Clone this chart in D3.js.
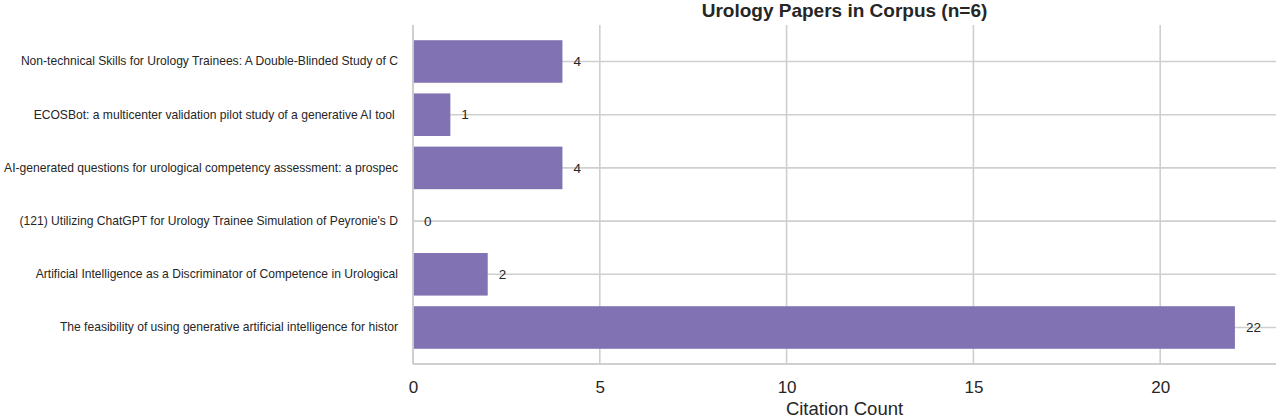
<!DOCTYPE html>
<html>
<head>
<meta charset="utf-8">
<script src="https://cdn.jsdelivr.net/npm/d3@7"></script>
<style>
  body { margin: 0; background: #fff; }
  text { font-family: "Liberation Sans", Arial, sans-serif; fill: #262626; }
</style>
</head>
<body>
<div id="chart"></div>
<script>
const papers = [
  'Non-technical Skills for Urology Trainees: A Double-Blinded Study of C',
  'ECOSBot: a multicenter validation pilot study of a generative AI tool ',
  'AI-generated questions for urological competency assessment: a prospec',
  "(121) Utilizing ChatGPT for Urology Trainee Simulation of Peyronie's D",
  'Artificial Intelligence as a Discriminator of Competence in Urological',
  'The feasibility of using generative artificial intelligence for histor'
]
const citations = [4, 1, 4, 0, 2, 22]
const xTicks = [0, 5, 10, 15, 20]

const chartTitle = 'Urology Papers in Corpus (n=6)'
const xLabel = 'Citation Count'

const width = 1280
const height = 418
const margin = { top: 25, right: 4, bottom: 54, left: 413 }

const svg = d3
  .select('#chart')
  .append('svg')
  .attr('width', width)
  .attr('height', height)

const xScale = d3
  .scaleLinear()
  .domain([0, d3.max(citations) * 1.05])
  .range([margin.left, width - margin.right])

const yScale = d3
  .scaleBand()
  .domain(papers)
  .range([margin.top, height - margin.bottom])
  .paddingInner(0.2)
  .paddingOuter(0.286)

const gridColor = '#cfcfcf'

// vertical grid
svg
  .append('g')
  .selectAll('line')
  .data(xTicks)
  .join('line')
  .attr('x1', (d) => xScale(d))
  .attr('x2', (d) => xScale(d))
  .attr('y1', margin.top)
  .attr('y2', height - margin.bottom)
  .attr('stroke', gridColor)
  .attr('stroke-width', 1.6)

// horizontal grid at category centres
svg
  .append('g')
  .selectAll('line')
  .data(papers)
  .join('line')
  .attr('x1', margin.left)
  .attr('x2', width - margin.right)
  .attr('y1', (d) => yScale(d) + yScale.bandwidth() / 2)
  .attr('y2', (d) => yScale(d) + yScale.bandwidth() / 2)
  .attr('stroke', gridColor)
  .attr('stroke-width', 1.6)

// bars
svg
  .append('g')
  .selectAll('rect')
  .data(papers)
  .join('rect')
  .attr('x', xScale(0))
  .attr('y', (d) => yScale(d))
  .attr('width', (d, i) => xScale(citations[i]) - xScale(0))
  .attr('height', yScale.bandwidth())
  .attr('fill', '#8172b3')

// spines (left and bottom)
svg
  .append('line')
  .attr('x1', margin.left)
  .attr('x2', margin.left)
  .attr('y1', margin.top)
  .attr('y2', height - margin.bottom)
  .attr('stroke', gridColor)
  .attr('stroke-width', 1.8)

svg
  .append('line')
  .attr('x1', margin.left)
  .attr('x2', width - margin.right)
  .attr('y1', height - margin.bottom)
  .attr('y2', height - margin.bottom)
  .attr('stroke', gridColor)
  .attr('stroke-width', 1.8)

// y axis labels
const yAxis = d3.axisLeft(yScale).tickSize(0).tickPadding(15)
const yAxisG = svg
  .append('g')
  .attr('transform', `translate(${margin.left}, 0)`)
  .call(yAxis)
yAxisG.select('.domain').remove()
yAxisG
  .selectAll('text')
  .style('font-family', '"Liberation Sans", Arial, sans-serif')
  .style('font-size', '12.1px')
  .style('fill', '#262626')
  .style('white-space', 'pre')

// x axis labels
const xAxis = d3.axisBottom(xScale).tickValues(xTicks).tickSize(0).tickPadding(16.5)
const xAxisG = svg
  .append('g')
  .attr('transform', `translate(0, ${height - margin.bottom})`)
  .call(xAxis)
xAxisG.select('.domain').remove()
xAxisG
  .selectAll('text')
  .style('font-family', '"Liberation Sans", Arial, sans-serif')
  .style('font-size', '17px')
  .style('fill', '#262626')

// value labels
svg
  .append('g')
  .selectAll('text')
  .data(papers)
  .join('text')
  .attr('x', (d, i) => xScale(citations[i]) + 11)
  .attr('y', (d) => yScale(d) + yScale.bandwidth() / 2)
  .attr('dy', '0.35em')
  .style('font-size', '13.5px')
  .text((d, i) => citations[i])

// title
svg
  .append('text')
  .attr('x', (xScale.range()[0] + xScale.range()[1]) / 2)
  .attr('y', 16.5)
  .attr('text-anchor', 'middle')
  .style('font-size', '19px')
  .style('font-weight', 'bold')
  .text(chartTitle)

// x label
svg
  .append('text')
  .attr('x', (xScale.range()[0] + xScale.range()[1]) / 2)
  .attr('y', 415)
  .attr('text-anchor', 'middle')
  .style('font-size', '18.5px')
  .text(xLabel)
</script>
</body>
</html>
